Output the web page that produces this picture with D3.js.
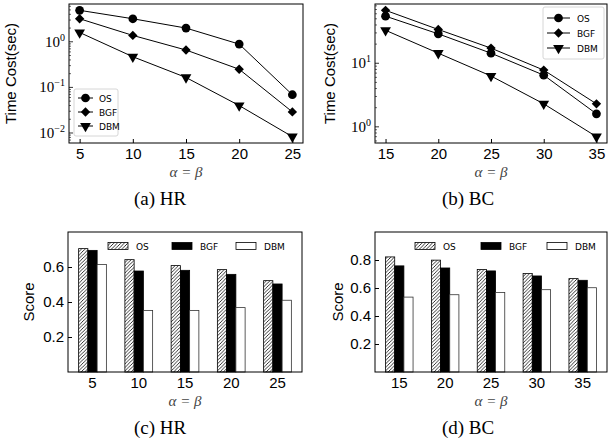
<!DOCTYPE html>
<html>
<head>
<meta charset="utf-8">
<script src="https://cdn.jsdelivr.net/npm/d3@7"></script>
<style>
  body { margin: 0; background: #fff; }
  svg { display: block; }
</style>
</head>
<body>
<svg id="fig" width="616" height="447"></svg>
<script>
// ---- data ----
const seriesNames = ['OS', 'BGF', 'DBM'];

const hrAlpha = [5, 10, 15, 20, 25];
const bcAlpha = [15, 20, 25, 30, 35];

// time cost (sec), log scale
const hrTimeOS  = [4.9, 3.2, 2.0, 0.89, 0.069];
const hrTimeBGF = [3.2, 1.38, 0.66, 0.25, 0.029];
const hrTimeDBM = [1.6, 0.47, 0.165, 0.04, 0.0083];

const bcTimeOS  = [55, 29, 14.4, 6.5, 1.6];
const bcTimeBGF = [68, 34, 17.3, 7.8, 2.3];
const bcTimeDBM = [33, 14.4, 6.3, 2.3, 0.7];

// score
const hrScoreOS  = [0.705, 0.642, 0.608, 0.585, 0.522];
const hrScoreBGF = [0.695, 0.577, 0.581, 0.558, 0.503];
const hrScoreDBM = [0.614, 0.352, 0.352, 0.368, 0.41];

const bcScoreOS  = [0.822, 0.799, 0.732, 0.703, 0.667];
const bcScoreBGF = [0.758, 0.743, 0.722, 0.686, 0.655];
const bcScoreDBM = [0.535, 0.552, 0.568, 0.588, 0.602];

// tick labels
const hrTimeExps = [-2, -1, 0];
const bcTimeExps = [0, 1];
const hrScoreTicks = [0.2, 0.4, 0.6];
const bcScoreTicks = [0.2, 0.4, 0.6, 0.8];
const hrScoreMax = 0.8;
const bcScoreMax = 1.0;

// ---- styles ----
const SANS = "'Liberation Sans Narrow', 'Liberation Sans', 'DejaVu Sans', sans-serif";
const LEG = "'DejaVu Sans', sans-serif";
const SERIF = "'Liberation Serif', 'DejaVu Serif', serif";

const svg = d3.select('#fig');

// hatch pattern for OS bars
const defs = svg.append('defs');
defs.append('pattern')
    .attr('id', 'hatch')
    .attr('patternUnits', 'userSpaceOnUse')
    .attr('width', 3.5)
    .attr('height', 3.5)
    .append('path')
    .attr('d', 'M-1,1 l2,-2 M0,3.5 l3.5,-3.5 M2.5,4.5 l2,-2')
    .attr('stroke', '#000')
    .attr('stroke-width', 0.8);

const barFill = { OS: 'url(#hatch)', BGF: '#000', DBM: '#fff' };
// matplotlib-like markers: o, D, v
const markerSym = { OS: d3.symbolCircle, BGF: d3.symbolSquare, DBM: d3.symbolTriangle };
const markerSize = { OS: 60, BGF: 44, DBM: 50 };
const markerRot = { OS: 0, BGF: 45, DBM: 180 };

/**
 * shared bits: frame, x label, caption, y label
 */
function drawFrame(g, box, yLabel, yLabelX, caption, captionX, xLabelY, captionY) {
    g.append('rect')
        .attr('x', box.left).attr('y', box.top)
        .attr('width', box.right - box.left)
        .attr('height', box.bottom - box.top)
        .attr('fill', 'none')
        .attr('stroke', '#000')
        .attr('stroke-width', 1);

    const midY = (box.top + box.bottom) / 2;
    g.append('text')
        .attr('transform', `translate(${yLabelX},${midY}) rotate(-90)`)
        .attr('text-anchor', 'middle')
        .style('font-family', SANS)
        .style('font-size', '15px')
        .text(yLabel);

    g.append('text')
        .attr('x', (box.left + box.right) / 2)
        .attr('y', xLabelY)
        .attr('text-anchor', 'middle')
        .style('font-family', SERIF)
        .style('font-style', 'italic')
        .style('font-size', '15px')
        .attr('fill', '#444')
        .text('\u03b1 = \u03b2');

    g.append('text')
        .attr('x', captionX)
        .attr('y', captionY)
        .attr('text-anchor', 'middle')
        .style('font-family', SERIF)
        .style('font-size', '19px')
        .text(caption);
}

function styleXAxis(axisG) {
    axisG.select('.domain').remove();
    axisG.selectAll('.tick line').attr('stroke', '#000');
    axisG.selectAll('.tick text')
        .style('font-family', SANS)
        .style('font-size', '15px')
        .attr('fill', '#000');
}

/**
 * Log-scale line chart of time cost
 */
function drawTimeChart(cfg) {
    const g = svg.append('g');
    const box = cfg.box;
    const series = cfg.series;

    const allX = cfg.alphas;
    const xPad = (d3.max(allX) - d3.min(allX)) * 0.05;
    const x = d3.scaleLinear()
        .domain([d3.min(allX) - xPad, d3.max(allX) + xPad])
        .range([box.left, box.right]);

    const allY = series.flatMap(s => s.values);
    const lo = Math.log10(d3.min(allY)), hi = Math.log10(d3.max(allY));
    const yPad = (hi - lo) * 0.05;
    const y = d3.scaleLog()
        .domain([Math.pow(10, lo - yPad), Math.pow(10, hi + yPad)])
        .range([box.bottom, box.top]);

    // x axis (ticks inward)
    const xa = g.append('g')
        .attr('transform', `translate(0,${box.bottom})`)
        .call(d3.axisBottom(x).tickValues(allX).tickSizeInner(-4).tickSizeOuter(0).tickPadding(5));
    styleXAxis(xa);

    // y minor ticks
    const [d0, d1] = y.domain();
    const minors = [];
    for (let k = Math.floor(Math.log10(d0)); k <= Math.ceil(Math.log10(d1)); k++) {
        for (let m = 2; m <= 9; m++) {
            const v = m * Math.pow(10, k);
            if (v >= d0 && v <= d1) minors.push(v);
        }
    }
    g.selectAll('.minor')
        .data(minors)
        .enter().append('line')
        .attr('x1', box.left).attr('x2', box.left + 2)
        .attr('y1', d => y(d)).attr('y2', d => y(d))
        .attr('stroke', '#000').attr('stroke-width', 0.6);

    // y major ticks with 10^k labels
    const majors = g.selectAll('.major')
        .data(cfg.exps)
        .enter().append('g')
        .attr('transform', d => `translate(0,${y(Math.pow(10, d))})`);
    majors.append('line')
        .attr('x1', box.left).attr('x2', box.left + 4)
        .attr('stroke', '#000').attr('stroke-width', 0.8);
    const lbl = majors.append('text')
        .attr('x', box.left - 4)
        .attr('y', 5)
        .attr('text-anchor', 'end')
        .style('font-family', SERIF)
        .style('font-size', '15px');
    lbl.append('tspan').text('10');
    lbl.append('tspan')
        .attr('dy', -6)
        .style('font-size', '10px')
        .text(d => d < 0 ? '\u2212' + Math.abs(d) : d);

    // lines + markers
    const line = d3.line()
        .x((d, i) => x(cfg.alphas[i]))
        .y(d => y(d));

    series.forEach(s => {
        g.append('path')
            .datum(s.values)
            .attr('d', line)
            .attr('fill', 'none')
            .attr('stroke', '#000')
            .attr('stroke-width', 1);

        g.selectAll(null)
            .data(s.values)
            .enter().append('path')
            .attr('d', d3.symbol().type(markerSym[s.name]).size(markerSize[s.name]))
            .attr('transform', (d, i) => `translate(${x(cfg.alphas[i])},${y(d)}) rotate(${markerRot[s.name]})`)
            .attr('fill', '#000');
    });

    // legend
    const lg = cfg.legend;
    const leg = g.append('g');
    leg.append('rect')
        .attr('x', lg.x).attr('y', lg.y)
        .attr('width', lg.w).attr('height', lg.h)
        .attr('rx', 2)
        .attr('fill', '#fff')
        .attr('fill-opacity', 0.8)
        .attr('stroke', '#ccc')
        .attr('stroke-width', 0.8);
    series.forEach((s, i) => {
        const ry = lg.y + lg.first + i * lg.step;
        leg.append('line')
            .attr('x1', lg.x + lg.lineFrom).attr('x2', lg.x + lg.lineTo)
            .attr('y1', ry).attr('y2', ry)
            .attr('stroke', '#000').attr('stroke-width', 1);
        leg.append('path')
            .attr('d', d3.symbol().type(markerSym[s.name]).size(markerSize[s.name]))
            .attr('transform', `translate(${lg.x + (lg.lineFrom + lg.lineTo) / 2},${ry}) rotate(${markerRot[s.name]})`)
            .attr('fill', '#000');
        leg.append('text')
            .attr('x', lg.x + lg.textX)
            .attr('y', ry + 3.5)
            .style('font-family', LEG)
            .style('font-size', '9px')
            .text(s.name);
    });

    drawFrame(g, box, 'Time Cost(sec)', cfg.yLabelX, cfg.caption, cfg.captionX, box.bottom + 34, box.bottom + 62);
}

/**
 * Grouped bar chart of score
 */
function drawScoreChart(cfg) {
    const g = svg.append('g');
    const box = cfg.box;

    const x0 = d3.scaleBand()
        .domain(cfg.alphas)
        .range([box.left, box.right])
        .paddingInner(0.4)
        .paddingOuter(0.23);
    const x1 = d3.scaleBand()
        .domain(seriesNames)
        .range([0, x0.bandwidth()]);
    const y = d3.scaleLinear()
        .domain([0, cfg.yMax])
        .range([box.bottom, box.top]);

    const groups = g.selectAll('.grp')
        .data(cfg.alphas)
        .enter().append('g')
        .attr('transform', d => `translate(${x0(d)},0)`);

    groups.selectAll('rect')
        .data((d, i) => cfg.series.map(s => ({ name: s.name, value: s.values[i] })))
        .enter().append('rect')
        .attr('x', d => x1(d.name))
        .attr('y', d => y(d.value))
        .attr('width', x1.bandwidth())
        .attr('height', d => y(0) - y(d.value))
        .attr('fill', d => barFill[d.name])
        .attr('stroke', d => d.name === 'DBM' ? '#333' : '#000')
        .attr('stroke-width', 0.8);

    const xa = g.append('g')
        .attr('transform', `translate(0,${box.bottom})`)
        .call(d3.axisBottom(x0).tickSizeInner(0).tickSizeOuter(0).tickPadding(5));
    styleXAxis(xa);

    const ya = g.append('g')
        .attr('transform', `translate(${box.left},0)`)
        .call(d3.axisLeft(y).tickValues(cfg.ticks).tickFormat(d3.format('.1f'))
            .tickSizeInner(-4).tickSizeOuter(0).tickPadding(4));
    ya.select('.domain').remove();
    ya.selectAll('.tick line').attr('stroke', '#000');
    ya.selectAll('.tick text')
        .style('font-family', SANS)
        .style('font-size', '15px')
        .attr('fill', '#000');

    // legend, 3 columns, no frame
    const lg = cfg.legend;
    seriesNames.forEach((name, i) => {
        const lx = lg.x + i * lg.col;
        g.append('rect')
            .attr('x', lx).attr('y', lg.y - 3.5)
            .attr('width', 20).attr('height', 7)
            .attr('fill', barFill[name])
            .attr('stroke', '#000')
            .attr('stroke-width', 0.8);
        g.append('text')
            .attr('x', lx + 28)
            .attr('y', lg.y + 3.5)
            .style('font-family', LEG)
            .style('font-size', '9px')
            .text(name);
    });

    drawFrame(g, box, 'Score', cfg.yLabelX, cfg.caption, cfg.captionX, box.bottom + 34, box.bottom + 62);
}

drawTimeChart({
    box: { left: 69, right: 303, top: 4, bottom: 143 },
    alphas: hrAlpha,
    series: [
        { name: 'OS', values: hrTimeOS },
        { name: 'BGF', values: hrTimeBGF },
        { name: 'DBM', values: hrTimeDBM }
    ],
    exps: hrTimeExps,
    legend: { x: 74, y: 89, w: 44, h: 47, first: 9, step: 14, lineFrom: 4, lineTo: 19, textX: 25 },
    yLabelX: 16,
    caption: '(a) HR',
    captionX: 160
});

drawTimeChart({
    box: { left: 375, right: 607, top: 4, bottom: 143 },
    alphas: bcAlpha,
    series: [
        { name: 'OS', values: bcTimeOS },
        { name: 'BGF', values: bcTimeBGF },
        { name: 'DBM', values: bcTimeDBM }
    ],
    exps: bcTimeExps,
    legend: { x: 543, y: 7, w: 61, h: 52, first: 11, step: 15, lineFrom: 4, lineTo: 27, textX: 34 },
    yLabelX: 335,
    caption: '(b) BC',
    captionX: 468
});

drawScoreChart({
    box: { left: 68, right: 302, top: 232, bottom: 372 },
    alphas: hrAlpha,
    series: [
        { name: 'OS', values: hrScoreOS },
        { name: 'BGF', values: hrScoreBGF },
        { name: 'DBM', values: hrScoreDBM }
    ],
    yMax: hrScoreMax,
    ticks: hrScoreTicks,
    legend: { x: 108, y: 246, col: 64 },
    yLabelX: 34,
    caption: '(c) HR',
    captionX: 160
});

drawScoreChart({
    box: { left: 375, right: 607, top: 232, bottom: 372 },
    alphas: bcAlpha,
    series: [
        { name: 'OS', values: bcScoreOS },
        { name: 'BGF', values: bcScoreBGF },
        { name: 'DBM', values: bcScoreDBM }
    ],
    yMax: bcScoreMax,
    ticks: bcScoreTicks,
    legend: { x: 415, y: 246, col: 66 },
    yLabelX: 343,
    caption: '(d) BC',
    captionX: 468
});
</script>
</body>
</html>
